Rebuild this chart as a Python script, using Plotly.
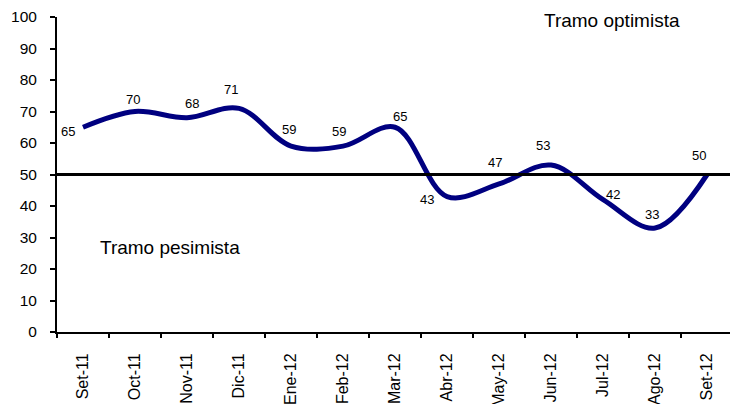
import plotly.graph_objects as go

categories = ["Set-11", "Oct-11", "Nov-11", "Dic-11", "Ene-12", "Feb-12", "Mar-12",
              "Abr-12", "May-12", "Jun-12", "Jul-12", "Ago-12", "Set-12"]
values = [65, 70, 68, 71, 59, 59, 65, 43, 47, 53, 42, 33, 50]
threshold = 50
yticks = list(range(0, 101, 10))

# label offsets in pixels (dx, dy) relative to each point
label_dx = [-15, -2, 5, -8, -2, -4, 5, -20, -4, -8, 10, -3, -8]
label_dy = [-4, 12, 14, 19, 17, 15, 11, -3, 21, 20, 5, 14, 19]

FONT = "Liberation Sans, Arial"

fig = go.Figure()
fig.add_trace(go.Scatter(
    x=categories, y=values, mode="lines",
    line=dict(color="#000080", width=5, shape="spline", smoothing=1.0),
    showlegend=False, hoverinfo="skip",
))
fig.add_shape(type="line", xref="paper", yref="y", x0=0, x1=1, y0=threshold, y1=threshold,
              line=dict(color="black", width=3))
for c, v, dx, dy in zip(categories, values, label_dx, label_dy):
    fig.add_annotation(x=c, y=v, text=str(v), showarrow=False, xshift=dx, yshift=dy,
                       xanchor="center", yanchor="middle",
                       font=dict(family=FONT, size=13, color="black"))

# pixel positions of the two text notes, converted to paper coordinates
L, R, T, B, W, H = 57, 0, 17, 72, 730, 404
pw, ph = W - L - R, H - T - B
notes = [("Tramo optimista", 612, 21), ("Tramo pesimista", 170, 248)]
for txt, px, py in notes:
    fig.add_annotation(x=(px - L) / pw, y=1 - (py - T) / ph, xref="paper", yref="paper",
                       text=txt, showarrow=False, xanchor="center", yanchor="middle",
                       font=dict(family=FONT, size=19, color="black"))

fig.update_layout(
    width=W, height=H, margin=dict(l=L, r=R, t=T, b=B, autoexpand=False),
    paper_bgcolor="white", plot_bgcolor="white",
    font=dict(family=FONT, color="black"),
    xaxis=dict(type="category", tickangle=-90, tickson="boundaries", ticks="outside", ticklen=4,
               tickcolor="black", tickwidth=2, showline=True, linecolor="black", linewidth=2,
               showgrid=False, tickfont=dict(size=16), range=[-0.5, 12.44], automargin=False,
               ticklabelstandoff=13),
    yaxis=dict(range=[0, 100], tickvals=yticks, ticks="outside", ticklen=5, tickcolor="black",
               tickwidth=2, showline=True, linecolor="black", linewidth=2, showgrid=False,
               zeroline=False, tickfont=dict(size=15.5), automargin=False,
               ticklabelstandoff=10),
)
fig.write_html("out.html", config={"displayModeBar": False, "staticPlot": True})

with open("out.html", encoding="utf-8") as f:
    html = f.read()
html = html.replace("<head>", "<head><style>html,body{margin:0;padding:0;overflow:hidden;}</style>", 1)
with open("out.html", "w", encoding="utf-8") as f:
    f.write(html)
